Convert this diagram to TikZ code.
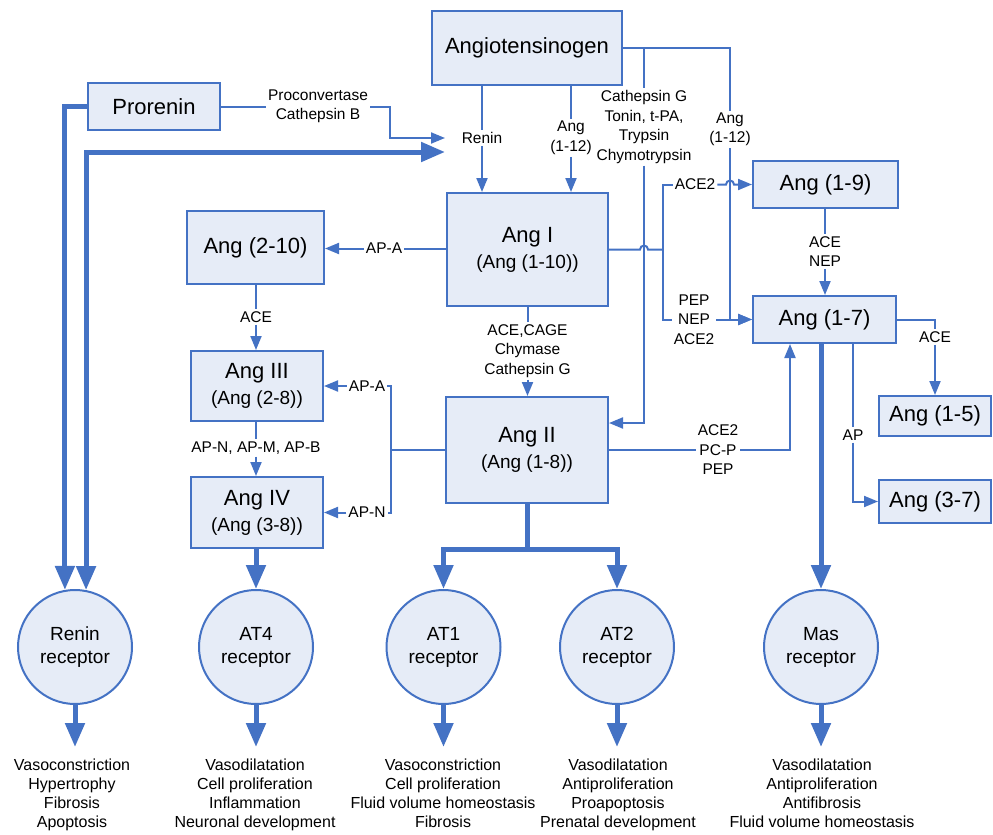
\documentclass[tikz,border=0pt]{standalone}
\usepackage{fontspec}
\setmainfont{Liberation Sans}
\usetikzlibrary{arrows.meta,calc}
\definecolor{lineblue}{RGB}{68,114,196}
\definecolor{boxfill}{RGB}{230,236,247}
\begin{document}
\begin{tikzpicture}[x=1pt,y=-1pt,
  box/.style={draw=lineblue,line width=2pt,fill=boxfill,inner sep=0pt,align=center,font=\fontsize{22}{26}\selectfont},
  rec/.style={circle,draw=lineblue,line width=2pt,fill=boxfill,minimum size=114pt,inner sep=0pt,align=center,font=\fontsize{19}{23}\selectfont},
  lbl/.style={inner sep=2pt,align=center,font=\fontsize{15.5}{19.5}\selectfont},
  outc/.style={inner sep=0pt,align=center,font=\fontsize{16}{19}\selectfont},
  conn/.style={draw=lineblue,line width=2pt},
  arr/.style={conn,-{Triangle[length=14pt,width=11pt]}},
  thk/.style={draw=lineblue,line width=5pt},
  thkarr/.style={thk,-{Triangle[length=24pt,width=19pt]}},
  sub/.style={}
]
\useasboundingbox (0,0) rectangle (993,835);

% boxes
\node[box,minimum width=190pt,minimum height=74pt] (agt) at (527,48) {Angiotensinogen};
\node[box,minimum width=132pt,minimum height=47pt] (pro) at (154,106.5) {Prorenin};
\node[box,minimum width=161pt,minimum height=113pt] (ang1) at (527.5,249.5) {Ang I\\{\fontsize{19}{26}\selectfont (Ang (1-10))}};
\node[box,minimum width=162pt,minimum height=106pt] (ang2) at (527,450) {Ang II\\{\fontsize{19}{26}\selectfont (Ang (1-8))}};
\node[box,minimum width=137pt,minimum height=73pt] (a210) at (255.5,247.5) {Ang (2-10)};
\node[box,minimum width=132pt,minimum height=70pt] (a3) at (257,386) {Ang III\\{\fontsize{19}{26}\selectfont (Ang (2-8))}};
\node[box,minimum width=132pt,minimum height=71pt] (a4) at (257,512.5) {Ang IV\\{\fontsize{19}{26}\selectfont (Ang (3-8))}};
\node[box,minimum width=145pt,minimum height=47pt] (a19) at (825.5,184.5) {Ang (1-9)};
\node[box,minimum width=143pt,minimum height=47pt] (a17) at (824.5,319.5) {Ang (1-7)};
\node[box,minimum width=112pt,minimum height=40pt] (a15) at (935,416) {Ang (1-5)};
\node[box,minimum width=112pt,minimum height=43pt] (a37) at (935,501.5) {Ang (3-7)};

% receptors
\node[rec] (renr) at (75,647) {Renin\\receptor};
\node[rec] (at4r) at (256,647) {AT4\\receptor};
\node[rec] (at1r) at (443.5,647) {AT1\\receptor};
\node[rec] (at2r) at (617,647) {AT2\\receptor};
\node[rec] (masr) at (821,647) {Mas\\receptor};

% labels
\node[lbl] (procl) at (318,106.5) {Proconvertase\\Cathepsin B};
\node[lbl] (renl) at (482,138) {Renin};
\node[lbl] (a12l) at (571,138) {Ang\\(1-12)};
\node[lbl] (catl) at (644,127) {Cathepsin G\\Tonin, t-PA,\\Trypsin\\Chymotrypsin};
\node[lbl] (a12r) at (730,129.5) {Ang\\(1-12)};
\node[lbl] (ace2l) at (695,184.5) {ACE2};
\node[lbl] (pnal) at (694,319.5) {PEP\\NEP\\ACE2};
\node[lbl] (acenep) at (825,251.5) {ACE\\NEP};
\node[lbl] (acel) at (935,337) {ACE};
\node[lbl] (apl) at (853,435) {AP};
\node[lbl] (ppl) at (718,450) {ACE2\\PC-P\\PEP};
\node[lbl] (apa1) at (384,248.5) {AP-A};
\node[lbl] (apa2) at (367,386) {AP-A};
\node[lbl] (apn) at (367,512.5) {AP-N};
\node[lbl] (acel2) at (256,317) {ACE};
\node[lbl] (apnmb) at (256,448) {AP-N, AP-M, AP-B};
\node[lbl] (cagel) at (527.5,351) {ACE,CAGE\\Chymase\\Cathepsin G};

% outcomes
\node[outc,anchor=north] (o1) at (72,759) {Vasoconstriction\\Hypertrophy\\Fibrosis\\Apoptosis};
\node[outc,anchor=north] (o2) at (255,759) {Vasodilatation\\Cell proliferation\\Inflammation\\Neuronal development};
\node[outc,anchor=north] (o3) at (443,759) {Vasoconstriction\\Cell proliferation\\Fluid volume homeostasis\\Fibrosis};
\node[outc,anchor=north] (o4) at (618,759) {Vasodilatation\\Antiproliferation\\Proapoptosis\\Prenatal development};
\node[outc,anchor=north] (o5) at (822,759) {Vasodilatation\\Antiproliferation\\Antifibrosis\\Fluid volume homeostasis};

% coordinates
\coordinate (t1) at (445,138);
\coordinate (t2) at (445,152);
\coordinate (pk) at (390,106.5);
\coordinate (jn) at (663,249.5);
\coordinate (jl) at (391,450);
\coordinate (br) at (527,549);

% prorenin
\draw[conn] (pro.east) -- (procl);
\draw[arr] (procl) -- (pk) |- (t1);
\draw[thkarr] (pro.west) -| (renr.100);
\draw[thk,{Triangle[length=24pt,width=19pt]}-{Triangle[length=24pt,width=19pt]}] (renr.79) |- (t2);

% angiotensinogen
\draw[conn] (agt.south -| renl) -- (renl);
\draw[arr] (renl) -- (renl |- ang1.north);
\draw[conn] (agt.south -| a12l) -- (a12l);
\draw[arr] (a12l) -- (a12l |- ang1.north);
\draw[conn] (agt.east) -| (a12r);
\draw[arr] (a12r) |- (a17.west);
\draw[conn] (catl |- agt.east) -- (catl);
\draw[arr] (catl) |- ([yshift=27pt]ang2.east);

% Ang I right
\draw[conn] (ang1.east) -- ($(catl |- ang1.east)+(-4,0)$) arc[start angle=180,end angle=0,radius=4pt] -- (jn);
\draw[conn] (jn) |- (ace2l);
\draw[arr] (ace2l) -- ($(a12r |- ace2l)+(-4,0)$) arc[start angle=180,end angle=0,radius=4pt] -- (a19.west);
\draw[conn] (jn) |- (pnal);
\draw[arr] (pnal) -- (a17.west);

% right cluster
\draw[conn] (a19.south -| acenep) -- (acenep);
\draw[arr] (acenep) -- (acenep |- a17.north);
\draw[conn] (a17.east) -| (acel);
\draw[arr] (acel) -- (a15.north);
\draw[conn] (a17.south -| apl) -- (apl);
\draw[arr] (apl) |- (a37.west);
\draw[thkarr] (a17.south -| masr) -- (masr.north);
\draw[conn] (ang2.east) -- (ppl);
\draw[arr] (ppl) -| ($(a17.south)+(-34.5,0)$);

% left cluster
\draw[conn] (apa1 -| ang1.west) -- (apa1);
\draw[arr] (apa1) -- (apa1 -| a210.east);
\draw[conn] (ang2.west) -- (jl);
\draw[conn] (jl) |- (apa2);
\draw[arr] (apa2) -- (a3.east);
\draw[conn] (jl) |- (apn);
\draw[arr] (apn) -- (a4.east);
\draw[conn] (a210.south -| acel2) -- (acel2);
\draw[arr] (acel2) -- (acel2 |- a3.north);
\draw[conn] (a3.south -| apnmb) -- (apnmb);
\draw[arr] (apnmb) -- (apnmb |- a4.north);
\draw[conn] (ang1.south -| cagel) -- (cagel);
\draw[arr] (cagel) -- (cagel |- ang2.north);

% to receptors
\draw[thk] (ang2.south -| br) -- (br);
\draw[thkarr] (br) -| (at1r.north);
\draw[thkarr] (br) -| (at2r.north);
\draw[thkarr] (a4.south -| at4r) -- (at4r.north);

% outcomes arrows
\draw[thkarr,shorten >=12pt] (renr.south) -- (renr.south |- o1.north);
\draw[thkarr,shorten >=12pt] (at4r.south) -- (at4r.south |- o2.north);
\draw[thkarr,shorten >=12pt] (at1r.south) -- (at1r.south |- o3.north);
\draw[thkarr,shorten >=12pt] (at2r.south) -- (at2r.south |- o4.north);
\draw[thkarr,shorten >=12pt] (masr.south) -- (masr.south |- o5.north);
\end{tikzpicture}
\end{document}
